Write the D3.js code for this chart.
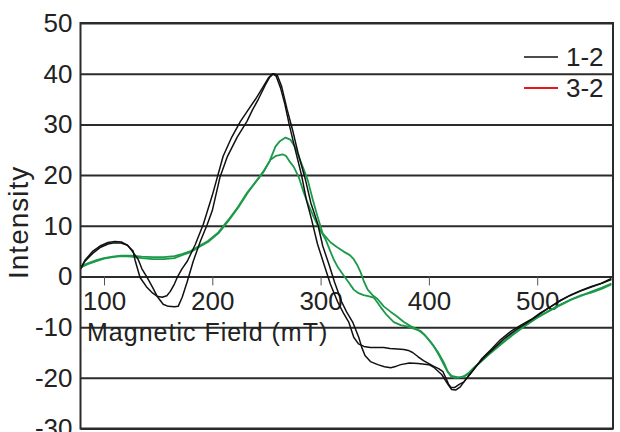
<!DOCTYPE html>
<html>
<head>
<meta charset="utf-8">
<script src="https://cdn.jsdelivr.net/npm/d3@7"></script>
<style>
body{margin:0;background:#fff;}
text{font-family:"Liberation Sans",Arial,sans-serif;fill:#222;}
</style>
</head>
<body>
<script>
// field (mT), intensity pairs
var black12a=[[78.7,1.8],[82.4,3.0],[89.8,4.6],[96.3,5.7],[103.7,6.4],[108.3,6.6],[115.7,6.6],[121.3,6.2],[126.9,5.0],[128.7,3.2],[133.3,-0.2],[139.8,-2.2],[145,-3.3],[149,-3.9],[153.7,-4.1],[158,-3.8],[161.1,-3.0],[165,-1.5],[167.6,-0.2],[172,1.5],[176.9,3.0],[184.3,6.3],[191.7,10.3],[200,16],[210,23.7],[218,27.5],[226,30.6],[233,32.8],[240,35],[248,37.8],[252,39.2],[255.6,40],[259,39.5],[263,37.2],[267,34],[271,30],[276,25.5],[282.4,20],[287,15],[291.7,11.2],[297,6.5],[303.7,2],[309,-1.5],[315.7,-5],[321,-7.2],[326,-9],[330.6,-12],[335,-13.3],[340,-13.8],[346,-14],[352.8,-14],[358.3,-14],[364,-14.2],[371,-14.3],[376.9,-14.4],[381,-14.6],[385,-15],[389.8,-15.8],[395,-16.6],[400,-17.2],[405,-17.8],[409,-18.2],[413,-18.8],[416,-20.2],[418,-21.2],[420.4,-21.9],[424,-21.9],[428,-21.3],[432.4,-20.8],[437,-19.5],[441.7,-18.3],[449,-16.2],[457.4,-14.4],[466,-12.5],[475.9,-10.8],[485,-9.6],[494.4,-8.5],[503,-7.2],[513,-5.9],[522,-4.7],[531.5,-3.6],[541,-2.7],[550,-2.0],[559,-1.4],[568.5,-0.6]];
var black12b=[[78.7,1.5],[82.4,3.2],[89.8,5.0],[96.3,6.0],[103.7,6.7],[110,6.9],[116,6.8],[122,6.1],[126,5.0],[131.5,3.4],[135,1.5],[139.8,-0.2],[145,-2.2],[149,-3.9],[154.6,-5.5],[159.3,-5.9],[165,-6.0],[168.5,-5.9],[172.2,-4.1],[176.9,-1.0],[182.4,3.0],[188.9,6.9],[195.4,10.3],[200,13],[207,19.5],[214,23.7],[223,27.5],[232,30.6],[237,32.8],[242.6,35],[249,37.8],[253,39.3],[256.5,40],[260,39.7],[264,37.5],[269,33],[274,29],[279,24.5],[286.1,19],[291,14.5],[297.2,10.5],[302,6],[308.3,2],[313,-1.2],[319.4,-5],[324,-7],[329.6,-9],[335.2,-12],[338,-14],[341,-15.6],[346,-16.8],[352.8,-17.4],[359,-17.8],[364.8,-18],[370,-17.7],[374,-17.4],[382,-17.1],[390,-17.2],[400,-17.4],[405,-18],[409,-18.8],[412,-19.4],[415,-20.4],[417.6,-21.3],[421,-22.3],[425,-22.4],[429,-21.8],[433,-20.6],[438,-19.3],[444,-17.6],[452,-15.8],[460,-14.2],[470,-12.2],[480,-10.6],[490,-9.2],[500,-7.8],[510,-6.3],[520,-4.9],[530,-3.8],[540,-2.9],[550,-2.1],[560,-1.3],[568.5,-0.4]];
var green32a=[[78.7,2.0],[85,2.6],[93,3.2],[100,3.6],[108,3.9],[116,4.1],[125,4.1],[135,3.9],[145,3.8],[155,3.8],[165,4.0],[172,4.4],[180,5.0],[187,5.9],[196,7.0],[205.6,8.7],[215,11.2],[224,13.8],[232.4,16.6],[241.7,19.1],[248,21],[253,22.8],[258.3,25.6],[262,26.6],[267.6,27.4],[272,27],[276.9,25.4],[281,23],[288,19.1],[293,15],[297.2,11.8],[301.9,8.5],[309.3,6.7],[315,5.8],[321.3,4.9],[327,4.2],[330.6,3.4],[334,2.2],[337,0.8],[340,-1],[343.5,-2.6],[348,-3.7],[352.8,-4.5],[358.3,-5.9],[364.8,-7],[370,-7.8],[376.9,-9.0],[383,-9.8],[389.8,-10.5],[396,-11.5],[401.9,-13],[408,-14.8],[413.9,-17],[417,-18.6],[420.4,-19.7],[424,-20],[429,-19.9],[433,-19.6],[437,-19],[442,-17.9],[448,-16.8],[457,-15.1],[466.7,-13.4],[477,-11.6],[488,-9.9],[499,-8.3],[510,-6.9],[521,-5.6],[531.5,-4.5],[541,-3.7],[550,-3.2],[560,-2.4],[568.5,-1.6]];
var green32b=[[78.7,1.8],[85,2.4],[93,3.0],[100,3.5],[108,3.8],[116,4.0],[125,3.9],[135,3.6],[145,3.4],[155,3.4],[165,3.6],[172,4.2],[180,4.8],[187,5.7],[196,6.8],[205.6,8.5],[215,11],[224,13.6],[232.4,16.4],[241.7,19.1],[247,20.5],[253.7,23],[259,23.8],[264.8,24.1],[268,23.8],[272,22.5],[275,21.7],[280,19.5],[284.3,16.6],[289,14],[293.5,11.8],[298,9.8],[304.6,7.3],[308,5.5],[312,3.4],[316,1.8],[321.3,0.2],[326,-1.2],[330.6,-2.6],[335,-3.3],[339.8,-3.7],[344,-3.9],[349.1,-4.2],[352,-5.0],[355.6,-6.1],[361,-7.6],[367.6,-9.0],[374,-9.6],[380.6,-9.9],[386,-10.3],[392.6,-10.8],[398,-12],[404.6,-13.8],[410,-15.8],[414,-17.5],[417.6,-18.9],[421,-19.6],[426.9,-19.9],[432,-19.8],[436.1,-19.3],[441,-18.2],[448.1,-16.8],[457,-15.0],[466.7,-13.2],[477,-11.4],[488,-9.8],[499,-8.2],[510.2,-6.9],[521,-5.7],[531.5,-4.6],[541,-3.8],[550,-3.0],[560,-2.2],[568.5,-1.4]];

var xTicks=[100,200,300,400,500];
var yTicks=[-30,-20,-10,0,10,20,30,40,50];
var legendNames=["1-2","3-2"];
var legendColours=["#111","#e3191c"];

var margin={top:23,right:7,bottom:3,left:80.5},
width=620-margin.left-margin.right,
height=432-margin.top-margin.bottom-0.5;

var x=d3.scaleLinear().domain([78.3,570]).range([0,width]);
var y=d3.scaleLinear().domain([-30,50]).range([height,0]);

var svg=d3.select("body").append("svg")
.attr("width",620)
.attr("height",432);

var g=svg.append("g")
.attr("transform","translate("+margin.left+","+margin.top+")");

// gridlines + y labels (plain hyphen for negatives, like the original)
var Yaxis=g.append("g")
.call(d3.axisLeft(y).tickValues(yTicks).tickSize(-width).tickPadding(8).tickFormat(function(d){return String(d);}));
Yaxis.select(".domain").remove();
Yaxis.selectAll("line").attr("stroke","#2b2b2b").attr("stroke-width",2);
Yaxis.selectAll("text").style("font-size","26px").attr("fill","#222");

// x axis sits at zero
var Xaxis=g.append("g")
.attr("transform","translate(0,"+y(0)+")")
.call(d3.axisBottom(x).tickValues(xTicks).tickSizeInner(9).tickSizeOuter(0).tickPadding(6));
Xaxis.select(".domain").remove();
Xaxis.selectAll("line").attr("stroke","#555").attr("stroke-width",1);
Xaxis.selectAll("text").style("font-size","26px").attr("fill","#222");

var line=d3.line()
.x(function(d){return x(d[0]);})
.y(function(d){return y(d[1]);});

[[green32a,"#1c9a4a",1.8],[green32b,"#1c9a4a",1.8],[black12a,"#111",1.5],[black12b,"#111",1.5]].forEach(function(s){
  g.append("path")
  .datum(s[0])
  .attr("fill","none")
  .attr("stroke",s[1])
  .attr("stroke-width",s[2])
  .attr("stroke-linejoin","round")
  .attr("d",line);
});

// frame
g.append("rect")
.attr("width",width)
.attr("height",height)
.attr("fill","none")
.attr("stroke","#2b2b2b")
.attr("stroke-width",2);

g.append("text")
.attr("x",87-margin.left)
.attr("y",341-margin.top)
.style("font-size","25px")
.style("letter-spacing","1px")
.text("Magnetic Field (mT)");

svg.append("text")
.attr("transform","translate(28,279) rotate(-90)")
.style("font-size","28px")
.style("letter-spacing","1px")
.text("Intensity");

var legend=svg.append("g").attr("transform","translate(524,57)");
legendNames.forEach(function(name,i){
  legend.append("line")
  .attr("x1",0).attr("x2",34)
  .attr("y1",i*31).attr("y2",i*31)
  .attr("stroke",legendColours[i])
  .attr("stroke-width",i==0?1.5:2);
  legend.append("text")
  .attr("x",42).attr("y",i*31+9)
  .style("font-size","26px")
  .text(name);
});
</script>
</body>
</html>
